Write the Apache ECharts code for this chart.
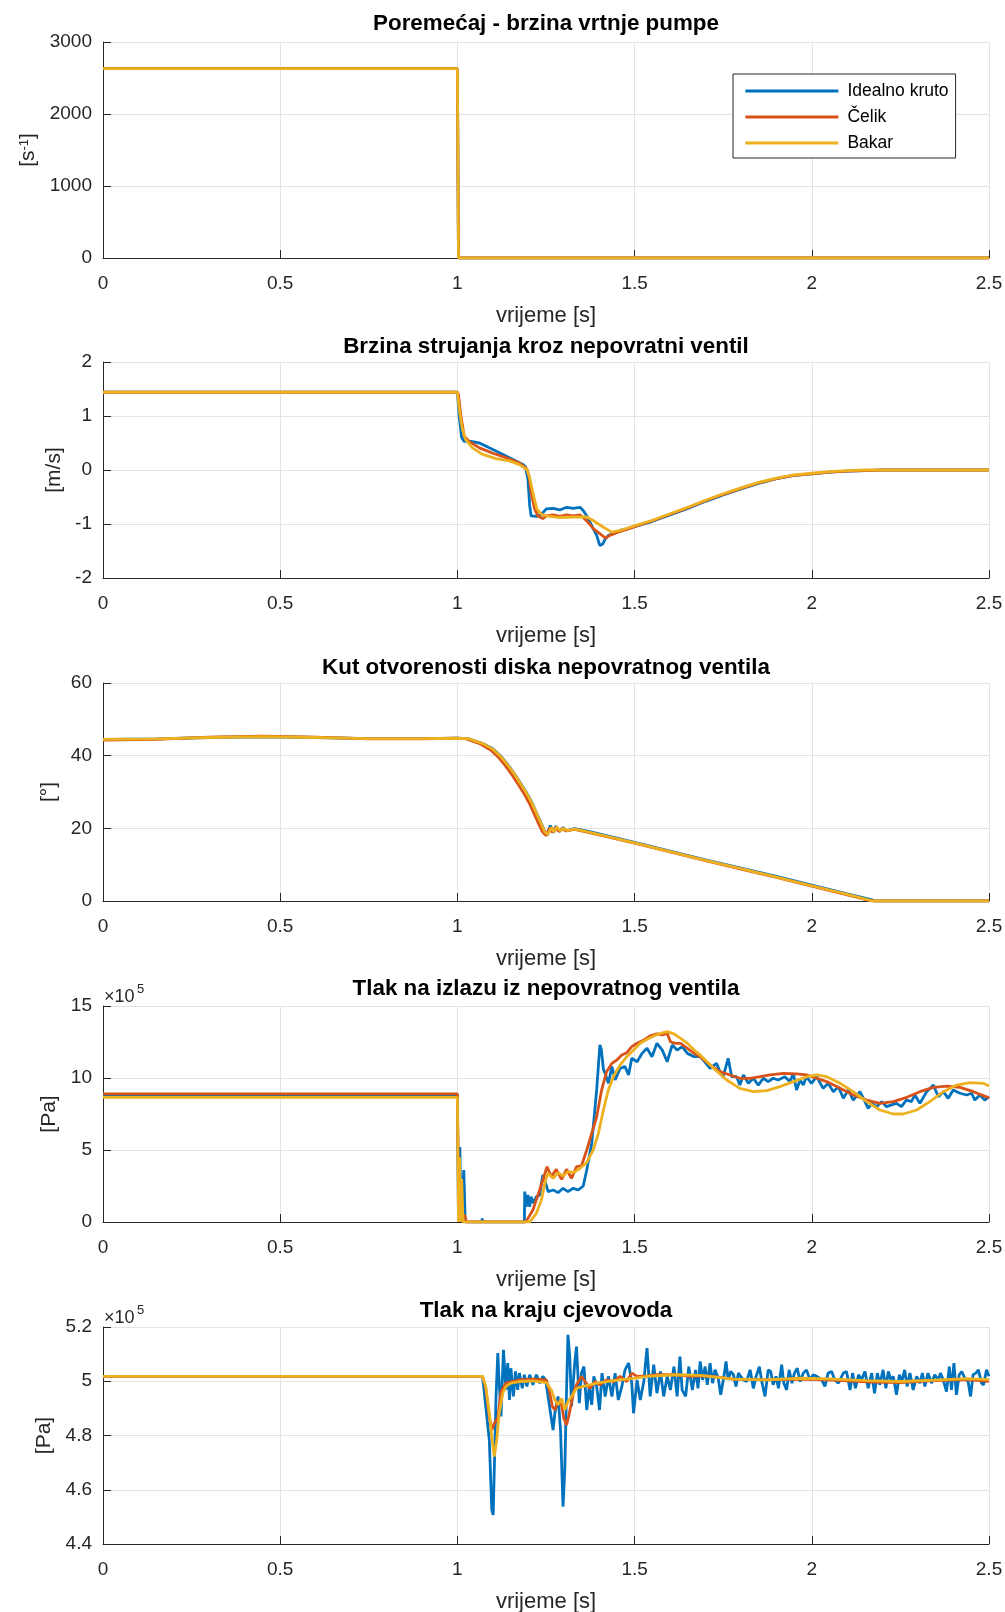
<!DOCTYPE html>
<html><head><meta charset="utf-8">
<script src="https://cdn.jsdelivr.net/npm/echarts@6/dist/echarts.min.js"></script>
<style>html,body{margin:0;padding:0;background:#fff}#c{width:1005px;height:1612px}</style>
</head><body><div id="c"></div>
<script>
// ---------- DATA ----------
const seriesNames = ['Idealno kruto', 'Čelik', 'Bakar'];
const titles = ['Poremećaj - brzina vrtnje pumpe', 'Brzina strujanja kroz nepovratni ventil',
  'Kut otvorenosti diska nepovratnog ventila', 'Tlak na izlazu iz nepovratnog ventila', 'Tlak na kraju cjevovoda'];
const yNames = ['[s{sup|-1}]', '[m/s]', '[°]', '[Pa]', '[Pa]'];
const xName = 'vrijeme [s]';
const xMin = 0, xMax = 2.5, xStep = 0.5;
const yMin = [0, -2, 0, 0, 4.4];
const yMax = [3000, 2, 60, 15, 5.2];
const yStep = [1000, 1, 20, 5, 0.2];
const yExponent = ['', '', '', '5', '5'];

// plot 1: pump speed [1/s]
const speedBlue = [[0, 2630], [1.0, 2630], [1.003, 0], [2.5, 0]];
const speedRed = [[0, 2630], [1.0, 2630], [1.003, 0], [2.5, 0]];
const speedYellow = [[0, 2630], [1.0, 2630], [1.003, 0], [2.5, 0]];

// plot 2: velocity [m/s]
const velBlue = [[0,1.44],[1.0,1.44],[1.005,1.00],[1.012,0.60],[1.019,0.53],[1.038,0.53],[1.062,0.50],[1.090,0.41],[1.137,0.26],[1.185,0.10],[1.192,0.06],[1.199,-0.17],[1.204,-0.66],[1.208,-0.85],[1.223,-0.86],[1.237,-0.82],[1.251,-0.72],[1.270,-0.71],[1.289,-0.74],[1.308,-0.69],[1.327,-0.71],[1.346,-0.69],[1.355,-0.75],[1.365,-0.85],[1.379,-1.03],[1.393,-1.21],[1.402,-1.40],[1.410,-1.37],[1.417,-1.28],[1.426,-1.21],[1.440,-1.18],[1.459,-1.12],[1.478,-1.09],[1.5,-1.05],[1.55,-0.95],[1.6,-0.83],[1.65,-0.71],[1.7,-0.58],[1.75,-0.46],[1.8,-0.35],[1.85,-0.25],[1.9,-0.16],[1.95,-0.10],[2.0,-0.07],[2.05,-0.04],[2.1,-0.02],[2.15,-0.01],[2.2,0],[2.5,0]];
const velRed = [[0,1.44],[1.0,1.44],[1.003,1.40],[1.009,1.04],[1.019,0.63],[1.033,0.53],[1.062,0.41],[1.100,0.31],[1.137,0.23],[1.175,0.13],[1.196,0.02],[1.202,-0.11],[1.208,-0.42],[1.218,-0.72],[1.227,-0.85],[1.241,-0.90],[1.251,-0.85],[1.270,-0.83],[1.289,-0.86],[1.308,-0.83],[1.327,-0.85],[1.346,-0.83],[1.355,-0.88],[1.369,-0.97],[1.384,-1.09],[1.402,-1.18],[1.418,-1.26],[1.430,-1.21],[1.449,-1.16],[1.478,-1.10],[1.5,-1.05],[1.55,-0.94],[1.6,-0.82],[1.65,-0.70],[1.7,-0.57],[1.75,-0.45],[1.8,-0.34],[1.85,-0.24],[1.9,-0.16],[1.95,-0.10],[2.0,-0.07],[2.05,-0.04],[2.1,-0.02],[2.15,-0.01],[2.2,0],[2.5,0]];
const velYellow = [[0,1.44],[1.0,1.44],[1.0066,1.06],[1.0142,0.75],[1.0237,0.56],[1.0426,0.41],[1.071,0.29],[1.109,0.21],[1.147,0.17],[1.175,0.10],[1.196,0.01],[1.205,-0.17],[1.215,-0.48],[1.224,-0.72],[1.237,-0.82],[1.251,-0.85],[1.289,-0.88],[1.327,-0.87],[1.365,-0.87],[1.384,-0.94],[1.412,-1.06],[1.436,-1.15],[1.459,-1.12],[1.497,-1.04],[1.55,-0.93],[1.6,-0.81],[1.65,-0.69],[1.7,-0.56],[1.75,-0.44],[1.8,-0.33],[1.85,-0.23],[1.9,-0.15],[1.95,-0.09],[2.0,-0.06],[2.05,-0.03],[2.1,-0.01],[2.15,0],[2.5,0]];

// plot 3: disc angle [deg]
const angleBlue = [[0,44.5],[0.15,44.6],[0.3,45.0],[0.45,45.2],[0.6,45.0],[0.75,44.7],[0.9,44.7],[1.0,44.8],[1.03,44.7],[1.07,43.4],[1.10,41.9],[1.123,39.8],[1.14,37.8],[1.159,35.3],[1.18,32.1],[1.195,29.8],[1.21,27.1],[1.223,24.3],[1.235,21.7],[1.246,19.2],[1.253,18.0],[1.262,20.8],[1.27,18.8],[1.278,20.6],[1.288,19.1],[1.298,20.2],[1.308,19.3],[1.33,19.9],[1.36,19.35],[1.4,18.45],[1.5,16.15],[1.6,13.75],[1.7,11.35],[1.8,9.05],[1.9,6.75],[2.0,4.35],[2.1,1.95],[2.17,0.3],[2.178,0],[2.5,0]];
const angleRed = [[0,44.3],[0.15,44.5],[0.3,45.1],[0.45,45.4],[0.6,45.1],[0.75,44.6],[0.9,44.6],[1.0,44.8],[1.025,44.6],[1.065,43.2],[1.095,41.5],[1.117,39.4],[1.134,37.4],[1.153,34.9],[1.174,31.7],[1.189,29.4],[1.204,26.7],[1.217,23.9],[1.229,21.3],[1.241,18.9],[1.250,18.0],[1.26,20.1],[1.268,18.9],[1.276,20.2],[1.286,19.2],[1.296,19.9],[1.306,19.3],[1.33,19.7],[1.36,19.1],[1.4,18.2],[1.5,15.9],[1.6,13.5],[1.7,11.1],[1.8,8.8],[1.9,6.5],[2.0,4.1],[2.1,1.7],[2.162,0.2],[2.17,0],[2.5,0]];
const angleYellow = [[0,44.5],[0.15,44.6],[0.3,45.0],[0.45,45.2],[0.6,45.0],[0.75,44.7],[0.9,44.7],[1.0,44.8],[1.03,44.7],[1.07,43.4],[1.10,41.8],[1.123,39.7],[1.14,37.7],[1.159,35.2],[1.18,32.0],[1.195,29.7],[1.21,27.0],[1.223,24.2],[1.235,21.6],[1.246,19.1],[1.255,18.2],[1.265,20.3],[1.272,19.0],[1.28,20.4],[1.29,19.3],[1.30,20.0],[1.31,19.4],[1.33,19.8],[1.36,19.2],[1.4,18.3],[1.5,16.0],[1.6,13.6],[1.7,11.2],[1.8,8.9],[1.9,6.6],[2.0,4.2],[2.1,1.8],[2.165,0.2],[2.175,0],[2.5,0]];

// plot 4: valve outlet pressure [x1e5 Pa]
const pOutBlue = [[0,8.80],[1.0,8.80],[1.003,0],[1.007,5.2],[1.010,0.2],[1.018,3.6],[1.022,0],[1.069,0],[1.070,0.25],[1.072,0],[1.189,0],[1.190,2.11],[1.194,1.06],[1.199,1.88],[1.204,1.06],[1.208,1.76],[1.215,1.30],[1.223,1.76],[1.232,1.88],[1.241,3.26],[1.249,2.69],[1.256,2.11],[1.270,2.22],[1.284,2.04],[1.298,2.34],[1.312,2.11],[1.327,2.34],[1.341,2.22],[1.355,2.50],[1.365,3.61],[1.379,5.46],[1.393,9.17],[1.402,12.3],[1.406,12.0],[1.412,10.6],[1.417,10.32],[1.426,9.63],[1.436,10.79],[1.445,9.86],[1.459,10.67],[1.473,10.79],[1.483,10.21],[1.492,11.37],[1.507,11.13],[1.521,11.71],[1.535,12.06],[1.549,11.48],[1.563,12.41],[1.578,11.94],[1.592,11.13],[1.606,12.29],[1.620,11.94],[1.634,12.18],[1.649,11.71],[1.668,11.48],[1.685,11.48],[1.694,11.25],[1.713,10.67],[1.731,11.02],[1.741,10.44],[1.750,10.09],[1.764,11.37],[1.774,10.09],[1.788,10.09],[1.797,9.51],[1.807,10.21],[1.821,9.63],[1.835,9.98],[1.849,9.51],[1.863,9.98],[1.877,9.75],[1.891,9.98],[1.905,9.86],[1.924,10.09],[1.938,9.75],[1.948,10.32],[1.957,9.17],[1.967,9.86],[1.976,9.51],[1.985,10.09],[1.999,9.63],[2.014,10.09],[2.032,9.28],[2.046,9.63],[2.061,9.05],[2.075,9.40],[2.089,8.59],[2.103,9.17],[2.117,8.47],[2.136,9.05],[2.150,8.36],[2.159,7.89],[2.169,8.24],[2.183,8.01],[2.197,8.36],[2.211,8.01],[2.225,8.13],[2.239,8.24],[2.253,8.01],[2.267,8.47],[2.281,8.36],[2.291,8.82],[2.305,8.24],[2.324,9.05],[2.343,9.51],[2.357,8.70],[2.371,9.05],[2.385,8.59],[2.399,9.17],[2.418,8.94],[2.437,8.82],[2.451,8.94],[2.460,8.47],[2.474,8.82],[2.488,8.47],[2.5,8.70]];
const pOutRed = [[0,8.90],[1.0,8.90],[1.004,0.4],[1.010,0.1],[1.020,0.5],[1.026,0],[1.193,0],[1.199,0.25],[1.213,0.83],[1.232,2.22],[1.253,3.84],[1.265,3.15],[1.279,3.66],[1.294,2.96],[1.308,3.66],[1.322,3.03],[1.336,3.84],[1.350,3.89],[1.365,5.0],[1.379,6.16],[1.393,7.31],[1.407,9.17],[1.421,10.44],[1.436,11.02],[1.450,11.25],[1.464,11.60],[1.478,11.76],[1.492,12.18],[1.507,12.41],[1.526,12.64],[1.544,12.92],[1.563,13.06],[1.578,12.99],[1.592,13.10],[1.601,12.52],[1.615,12.41],[1.630,12.41],[1.649,12.06],[1.668,11.71],[1.685,11.48],[1.713,10.90],[1.741,10.44],[1.769,10.21],[1.797,9.98],[1.826,9.98],[1.854,10.09],[1.882,10.21],[1.920,10.32],[1.957,10.28],[1.986,10.21],[2.014,9.98],[2.042,9.75],[2.080,9.28],[2.117,8.82],[2.155,8.47],[2.192,8.24],[2.230,8.36],[2.268,8.66],[2.305,9.05],[2.343,9.35],[2.381,9.44],[2.418,9.35],[2.456,9.05],[2.5,8.62]];
const pOutYellow = [[0,8.66],[1.0,8.66],[1.003,0],[1.006,4.5],[1.009,0],[1.012,3.0],[1.016,0],[1.204,0],[1.223,0.60],[1.237,1.53],[1.249,2.92],[1.256,3.38],[1.270,3.03],[1.284,3.43],[1.298,3.19],[1.312,3.50],[1.327,3.43],[1.346,3.73],[1.365,4.12],[1.383,5.0],[1.398,6.16],[1.412,7.78],[1.426,9.17],[1.440,10.09],[1.459,10.90],[1.478,11.48],[1.497,11.94],[1.516,12.41],[1.535,12.69],[1.554,12.92],[1.573,13.10],[1.592,13.22],[1.611,13.06],[1.630,12.75],[1.649,12.41],[1.668,11.94],[1.685,11.60],[1.723,10.67],[1.760,9.86],[1.797,9.28],[1.835,9.05],[1.873,9.12],[1.910,9.40],[1.948,9.75],[1.986,10.09],[2.014,10.21],[2.042,10.09],[2.080,9.63],[2.117,9.05],[2.155,8.36],[2.192,7.78],[2.230,7.50],[2.258,7.50],[2.296,7.78],[2.333,8.36],[2.371,9.05],[2.409,9.51],[2.446,9.68],[2.484,9.63],[2.5,9.45]];

// plot 5: pipeline end pressure [x1e5 Pa]
const pEndBlue = [[0,5.018],[1.071,5.018],[1.090,4.784],[1.097,4.526],[1.101,4.507],[1.109,4.944],[1.114,5.104],[1.118,4.993],[1.123,4.870],[1.130,5.116],[1.137,4.968],[1.142,5.067],[1.147,4.931],[1.151,5.048],[1.158,4.944],[1.164,5.036],[1.170,4.968],[1.175,5.030],[1.183,4.974],[1.189,5.024],[1.196,4.981],[1.204,5.024],[1.213,4.987],[1.223,5.024],[1.232,4.993],[1.241,5.018],[1.249,5.005],[1.260,4.907],[1.270,4.820],[1.275,4.882],[1.284,4.944],[1.291,4.820],[1.298,4.538],[1.303,4.673],[1.308,4.968],[1.312,5.171],[1.317,5.091],[1.322,4.907],[1.331,5.067],[1.336,5.128],[1.344,4.919],[1.350,5.030],[1.357,5.054],[1.365,4.894],[1.372,4.981],[1.379,4.913],[1.385,5.018],[1.393,4.981],[1.401,4.894],[1.408,5.030],[1.417,4.944],[1.426,5.018],[1.436,4.944],[1.445,5.030],[1.454,4.931],[1.464,4.981],[1.473,5.042],[1.483,5.067],[1.492,4.993],[1.497,4.882],[1.507,5.005],[1.516,4.931],[1.526,4.999],[1.535,5.122],[1.544,4.944],[1.554,5.061],[1.563,4.956],[1.573,5.036],[1.582,4.944],[1.592,5.018],[1.601,4.968],[1.611,5.054],[1.620,4.944],[1.628,5.091],[1.634,4.968],[1.644,4.944],[1.653,5.054],[1.663,4.968],[1.672,5.042],[1.679,4.974],[1.685,5.073],[1.692,5.005],[1.699,5.054],[1.705,4.987],[1.713,5.067],[1.720,4.993],[1.727,5.042],[1.736,5.011],[1.743,4.950],[1.748,4.944],[1.752,5.018],[1.758,5.073],[1.764,5.005],[1.771,5.036],[1.779,5.024],[1.786,4.981],[1.793,5.030],[1.799,5.018],[1.807,5.005],[1.816,4.999],[1.826,5.042],[1.835,4.974],[1.843,5.018],[1.852,5.054],[1.858,5.005],[1.868,4.944],[1.877,5.042],[1.884,5.036],[1.891,4.987],[1.899,5.018],[1.906,4.974],[1.915,5.061],[1.921,4.993],[1.929,4.968],[1.936,5.042],[1.944,4.993],[1.951,5.030],[1.959,5.048],[1.967,4.999],[1.976,5.030],[1.985,5.042],[1.995,5.005],[2.004,5.024],[2.014,5.018],[2.028,5.005],[2.037,4.981],[2.046,5.030],[2.056,5.036],[2.065,5.005],[2.075,4.993],[2.089,5.030],[2.098,5.036],[2.108,4.968],[2.115,5.030],[2.123,4.974],[2.132,5.024],[2.140,5.005],[2.150,5.036],[2.159,4.974],[2.169,5.030],[2.177,4.956],[2.185,5.030],[2.192,4.987],[2.201,5.042],[2.209,4.974],[2.216,5.036],[2.223,5.005],[2.230,5.018],[2.239,4.950],[2.247,5.024],[2.254,4.999],[2.262,5.042],[2.269,4.981],[2.277,5.030],[2.286,4.968],[2.296,5.018],[2.305,4.993],[2.312,5.030],[2.319,4.981],[2.328,5.030],[2.338,4.993],[2.347,5.024],[2.357,5.005],[2.363,5.030],[2.371,5.005],[2.380,4.962],[2.388,5.054],[2.394,4.968],[2.401,5.067],[2.408,4.950],[2.416,5.024],[2.423,5.036],[2.432,5.011],[2.441,4.999],[2.448,4.944],[2.455,5.024],[2.463,5.030],[2.470,5.042],[2.479,4.993],[2.485,4.987],[2.493,5.042],[2.5,5.018]];
const pEndRed = [[0,5.018],[1.071,5.018],[1.080,4.974],[1.090,4.870],[1.097,4.820],[1.104,4.845],[1.114,4.864],[1.123,4.962],[1.137,4.993],[1.175,5.005],[1.213,5.008],[1.251,5.005],[1.258,4.974],[1.268,4.907],[1.275,4.894],[1.284,4.925],[1.294,4.913],[1.300,4.864],[1.308,4.839],[1.315,4.876],[1.327,4.956],[1.336,4.987],[1.350,5.018],[1.360,4.999],[1.374,4.974],[1.388,4.999],[1.402,4.987],[1.421,5.005],[1.440,4.999],[1.459,5.018],[1.478,4.999],[1.492,5.030],[1.507,5.018],[1.535,5.020],[1.563,5.024],[1.611,5.024],[1.659,5.018],[1.706,5.020],[1.779,5.008],[1.873,5.005],[1.967,5.008],[2.061,5.004],[2.155,4.998],[2.249,4.995],[2.343,5.002],[2.437,5.006],[2.5,5.0]];
const pEndYellow = [[0,5.018],[1.071,5.018],[1.080,4.981],[1.090,4.882],[1.099,4.771],[1.104,4.722],[1.111,4.784],[1.118,4.882],[1.128,4.956],[1.137,4.981],[1.151,4.993],[1.175,4.999],[1.213,5.001],[1.251,4.995],[1.265,4.968],[1.275,4.931],[1.284,4.913],[1.294,4.937],[1.303,4.894],[1.312,4.925],[1.322,4.944],[1.336,4.974],[1.355,4.981],[1.374,4.987],[1.393,4.993],[1.421,4.999],[1.459,5.005],[1.497,5.011],[1.535,5.018],[1.611,5.024],[1.687,5.022],[1.779,5.008],[1.873,5.005],[1.967,5.011],[2.061,5.008],[2.155,5.002],[2.249,4.999],[2.343,5.004],[2.437,5.010],[2.5,5.006]];

const plotData = [
  [speedBlue, speedRed, speedYellow],
  [velBlue, velRed, velYellow],
  [angleBlue, angleRed, angleYellow],
  [pOutBlue, pOutRed, pOutYellow],
  [pEndBlue, pEndRed, pEndYellow]
];

// ---------- STYLE / LAYOUT ----------
const FONT = '"Liberation Sans", Arial, Helvetica, sans-serif';
const AX = '#262626';
const GRIDC = '#e3e3e3';
const COLORS = ['#0072BD', '#D95319', '#EDB120'];
const LEFT = 103, WIDTH = 886;
const gridTop = [42, 362, 683, 1006, 1327];
const gridH = [216, 216, 218, 216, 217];
const titleY = [23, 346, 667, 988, 1310];
const yNameGap = [62, 38, 43, 43, 48];
const LW = 2.8;

const chart = echarts.init(document.getElementById('c'), null, {renderer: 'canvas'});
const grids = [], xAxes = [], yAxes = [], series = [], titleArr = [], graphics = [];
for (let i = 0; i < 5; i++) {
  grids.push({left: LEFT, width: WIDTH, top: gridTop[i], height: gridH[i], containLabel: false, outerBoundsMode: 'none'});
  xAxes.push({
    type: 'value', gridIndex: i, min: xMin, max: xMax, interval: xStep,
    name: xName, nameLocation: 'middle', nameGap: 47,
    nameTextStyle: {fontSize: 22, color: AX, fontFamily: FONT},
    axisLine: {show: true, onZero: false, lineStyle: {color: AX, width: 1}},
    axisTick: {show: true, inside: true, length: 8, lineStyle: {color: AX, width: 1}},
    axisLabel: {fontSize: 19, color: AX, margin: 16, fontFamily: FONT},
    splitLine: {show: true, lineStyle: {color: GRIDC, width: 1}}
  });
  yAxes.push({
    type: 'value', gridIndex: i, min: yMin[i], max: yMax[i], interval: yStep[i],
    name: yNames[i], nameLocation: 'middle', nameRotate: 90, nameGap: yNameGap[i],
    nameTextStyle: {fontSize: 21, color: AX, fontFamily: FONT,
      rich: {sup: {fontSize: 13, verticalAlign: 'top', color: AX, fontFamily: FONT}}},
    axisLine: {show: true, onZero: false, lineStyle: {color: AX, width: 1}},
    axisTick: {show: true, inside: true, length: 8, lineStyle: {color: AX, width: 1}},
    axisLabel: {fontSize: 19, color: AX, margin: 11, fontFamily: FONT,
      formatter: v => String(+(+v).toFixed(3))},
    splitLine: {show: true, lineStyle: {color: GRIDC, width: 1}}
  });
  titleArr.push({
    text: titles[i], left: LEFT + WIDTH / 2, top: titleY[i] - 10, textAlign: 'center', padding: 0,
    textStyle: {fontSize: 22.4, fontWeight: 'bold', color: '#000', fontFamily: FONT}
  });
  for (let s = 0; s < 3; s++) {
    series.push({
      type: 'line', name: seriesNames[s], xAxisIndex: i, yAxisIndex: i,
      data: plotData[i][s], symbol: 'none', showSymbol: false, smooth: false,
      lineStyle: {color: COLORS[s], width: LW}, itemStyle: {color: COLORS[s]},
      animation: false, clip: true, z: 2 + s
    });
  }
  if (yExponent[i]) {
    graphics.push({type: 'text', left: LEFT + 1, top: gridTop[i] - 18,
      style: {text: '×10', font: '18px ' + FONT, fill: AX}});
    graphics.push({type: 'text', left: LEFT + 34, top: gridTop[i] - 23,
      style: {text: yExponent[i], font: '13px ' + FONT, fill: AX}});
  }
}

chart.setOption({
  animation: false,
  backgroundColor: '#fff',
  textStyle: {fontFamily: FONT},
  title: titleArr,
  grid: grids,
  xAxis: xAxes,
  yAxis: yAxes,
  series: series,
  graphic: graphics,
  legend: {
    data: seriesNames, orient: 'vertical', left: 733, top: 74,
    itemWidth: 93, itemHeight: 14, itemGap: 8,
    padding: [8, 7, 6, 11], borderColor: AX, borderWidth: 1, borderRadius: 0,
    backgroundColor: '#fff', selectedMode: false,
    itemStyle: {opacity: 0},
    lineStyle: {width: LW},
    textStyle: {fontSize: 17.5, color: '#000', fontFamily: FONT, padding: [0, 0, 0, 4]}
  }
});
</script>
</body></html>
